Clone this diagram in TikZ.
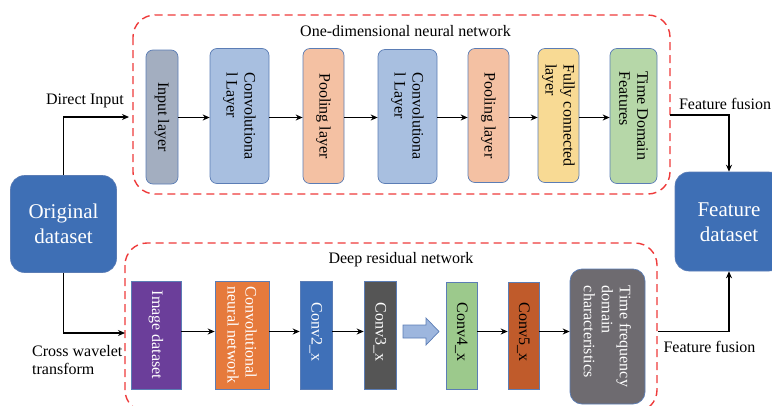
\documentclass[tikz,border=0pt]{standalone}
\usepackage{fontspec}
\setmainfont{Liberation Serif}
\usetikzlibrary{arrows.meta,calc}
\definecolor{dsblue}{HTML}{3E6FB5}
\definecolor{bordc}{HTML}{5B7DB5}
\definecolor{inpc}{HTML}{A3AEC0}
\definecolor{convc}{HTML}{A8BFE0}
\definecolor{poolc}{HTML}{F4C1A3}
\definecolor{fcc}{HTML}{F8DA94}
\definecolor{tdfc}{HTML}{B6D7A8}
\definecolor{imgc}{HTML}{6B3E9A}
\definecolor{cnnc}{HTML}{E67A3C}
\definecolor{c2c}{HTML}{3F70B8}
\definecolor{c3c}{HTML}{555555}
\definecolor{c4c}{HTML}{9CC98C}
\definecolor{c5c}{HTML}{C05B2B}
\definecolor{tfdc}{HTML}{6E6B70}
\definecolor{barrc}{HTML}{9DB6DE}
\definecolor{dashred}{HTML}{EE3B3B}
\tikzset{
  txt/.style={font=\fontsize{16}{18}\selectfont, inner sep=0pt},
  vtxt/.style={txt, rotate=-90, align=left},
  bigbox/.style={fill=dsblue, draw=bordc, line width=0.6pt, rounded corners=14pt, minimum width=106pt, minimum height=97pt, inner sep=0pt},
  bigtxt/.style={font=\fontsize{21}{25}\selectfont, text=white, align=center, inner sep=0pt},
  rbox/.style={draw=bordc, line width=0.7pt, rounded corners=7pt, minimum height=135pt, inner sep=0pt},
  sbox/.style={draw=bordc, line width=0.6pt, minimum height=108pt, inner sep=0pt},
  conn/.style={line width=1.1pt, -{Stealth[length=7pt,width=6pt]}},
  dashbox/.style={draw=dashred, line width=1.4pt, dash pattern=on 8pt off 5pt, rounded corners=22pt}
}
\begin{document}
\begin{tikzpicture}[x=1pt,y=-1pt]
\useasboundingbox (0,0) rectangle (772,405);
% dashed groups
\draw[dashbox] (133,15) rectangle (670,194);
\draw[dashbox] (125,243) rectangle (657,412);
\node[txt] (t1) at (405.5,31) {One-dimensional neural network};
\node[txt] (t2) at (401,260) {Deep residual network};
% big boxes
\node[bigbox] (orig) at (63.5,224) {};
\node[bigtxt] (origT) at (orig) {Original\\dataset};
\node[bigbox, minimum width=108pt, minimum height=99pt] (feat) at (729,221.5) {};
\node[bigtxt] (featT) at (729,222) {Feature\\dataset};
% top row
\node[rbox, fill=inpc, minimum width=32pt, minimum height=134pt] (inl) at (162,117) {};
\node[vtxt] (inlT) at (inl) {Input layer};
\node[rbox, fill=convc, minimum width=59pt] (cv1) at (239.5,116) {};
\node[vtxt] (cv1T) at (cv1) {Convolutiona\\l Layer};
\node[rbox, fill=poolc, minimum width=41pt] (pl1) at (323.5,116) {};
\node[vtxt] (pl1T) at (pl1) {Pooling layer};
\node[rbox, fill=convc, minimum width=59pt, minimum height=134pt] (cv2) at (407.5,116.5) {};
\node[vtxt] (cv2T) at (cv2) {Convolutiona\\l Layer};
\node[rbox, fill=poolc, minimum width=41pt, minimum height=134pt] (pl2) at (488.5,115.5) {};
\node[vtxt] (pl2T) at (pl2) {Pooling layer};
\node[rbox, fill=fcc, minimum width=41pt, minimum height=134pt] (fc) at (558.5,115.5) {};
\node[vtxt] (fcT) at (fc) {Fully connected\\layer};
\node[rbox, fill=tdfc, minimum width=47pt] (tdf) at (633.5,116) {};
\node[vtxt] (tdfT) at (tdf) {Time Domain\\Features};
\coordinate (ty) at (0,117.5);
\draw[conn] (inl.east |- ty) -- (cv1.west |- ty);
\draw[conn] (cv1.east |- ty) -- (pl1.west |- ty);
\draw[conn] (pl1.east |- ty) -- (cv2.west |- ty);
\draw[conn] (cv2.east |- ty) -- (pl2.west |- ty);
\draw[conn] (pl2.east |- ty) -- (fc.west |- ty);
\draw[conn] (fc.east |- ty) -- (tdf.west |- ty);
% bottom row
\node[sbox, fill=imgc, minimum width=50pt] (img) at (156,335) {};
\node[vtxt, text=white] (imgT) at (img) {Image dataset};
\node[sbox, fill=cnnc, minimum width=54pt] (cnn) at (242,335) {};
\node[vtxt, text=white] (cnnT) at (cnn) {Convolutional\\neural network};
\node[sbox, fill=c2c, minimum width=32pt] (c2) at (316,335) {};
\node[vtxt, text=white] (c2T) at (316,332) {Conv2\_x};
\node[sbox, fill=c3c, minimum width=32pt] (c3) at (380,335) {};
\node[vtxt, text=white] (c3T) at (380,332) {Conv3\_x};
\node[sbox, fill=c4c, minimum width=31pt, minimum height=107pt] (c4) at (461.5,335.5) {};
\node[vtxt] (c4T) at (461.5,332) {Conv4\_x};
\node[sbox, fill=c5c, minimum width=31pt, minimum height=107pt] (c5) at (523.5,335.5) {};
\node[vtxt] (c5T) at (523.5,332) {Conv5\_x};
\node[rbox, fill=tfdc, minimum width=75pt, rounded corners=12pt] (tfd) at (607.5,336.5) {};
\node[vtxt, text=white] (tfdT) at (tfd) {Time frequency\\domain\\characteristics};
\draw[fill=barrc, draw=bordc, line width=0.7pt] (403,325) -- (426,325) -- (426,318) -- (439,331.5) -- (426,345) -- (426,338) -- (403,338) -- cycle;
\coordinate (by) at (0,331.5);
\draw[conn] (img.east |- by) -- (cnn.west |- by);
\draw[conn] (cnn.east |- by) -- (c2.west |- by);
\draw[conn] (c2.east |- by) -- (c3.west |- by);
\draw[conn] (c4.east |- by) -- (c5.west |- by);
\draw[conn] (c5.east |- by) -- (tfd.west |- by);
% outer connectors
\coordinate (din) at (129,117);
\coordinate (cwt) at (125,333);
\coordinate (ff1) at (670,115);
\coordinate (ff2) at (658,331.5);
\draw[conn] (orig.north) |- (din);
\draw[conn] (orig.south) |- (cwt);
\draw[conn] (ff1) -| (feat.north);
\draw[conn] (ff2) -| (feat.south);
\node[txt] (dinT) at (85,101) {Direct Input};
\node[txt, align=left, anchor=west] (cwtT) at (32,360) {Cross wavelet\\transform};
\node[txt] (ff1T) at (725,104) {Feature fusion};
\node[txt] (ff2T) at (709.5,347) {Feature fusion};
\end{tikzpicture}
\end{document}
